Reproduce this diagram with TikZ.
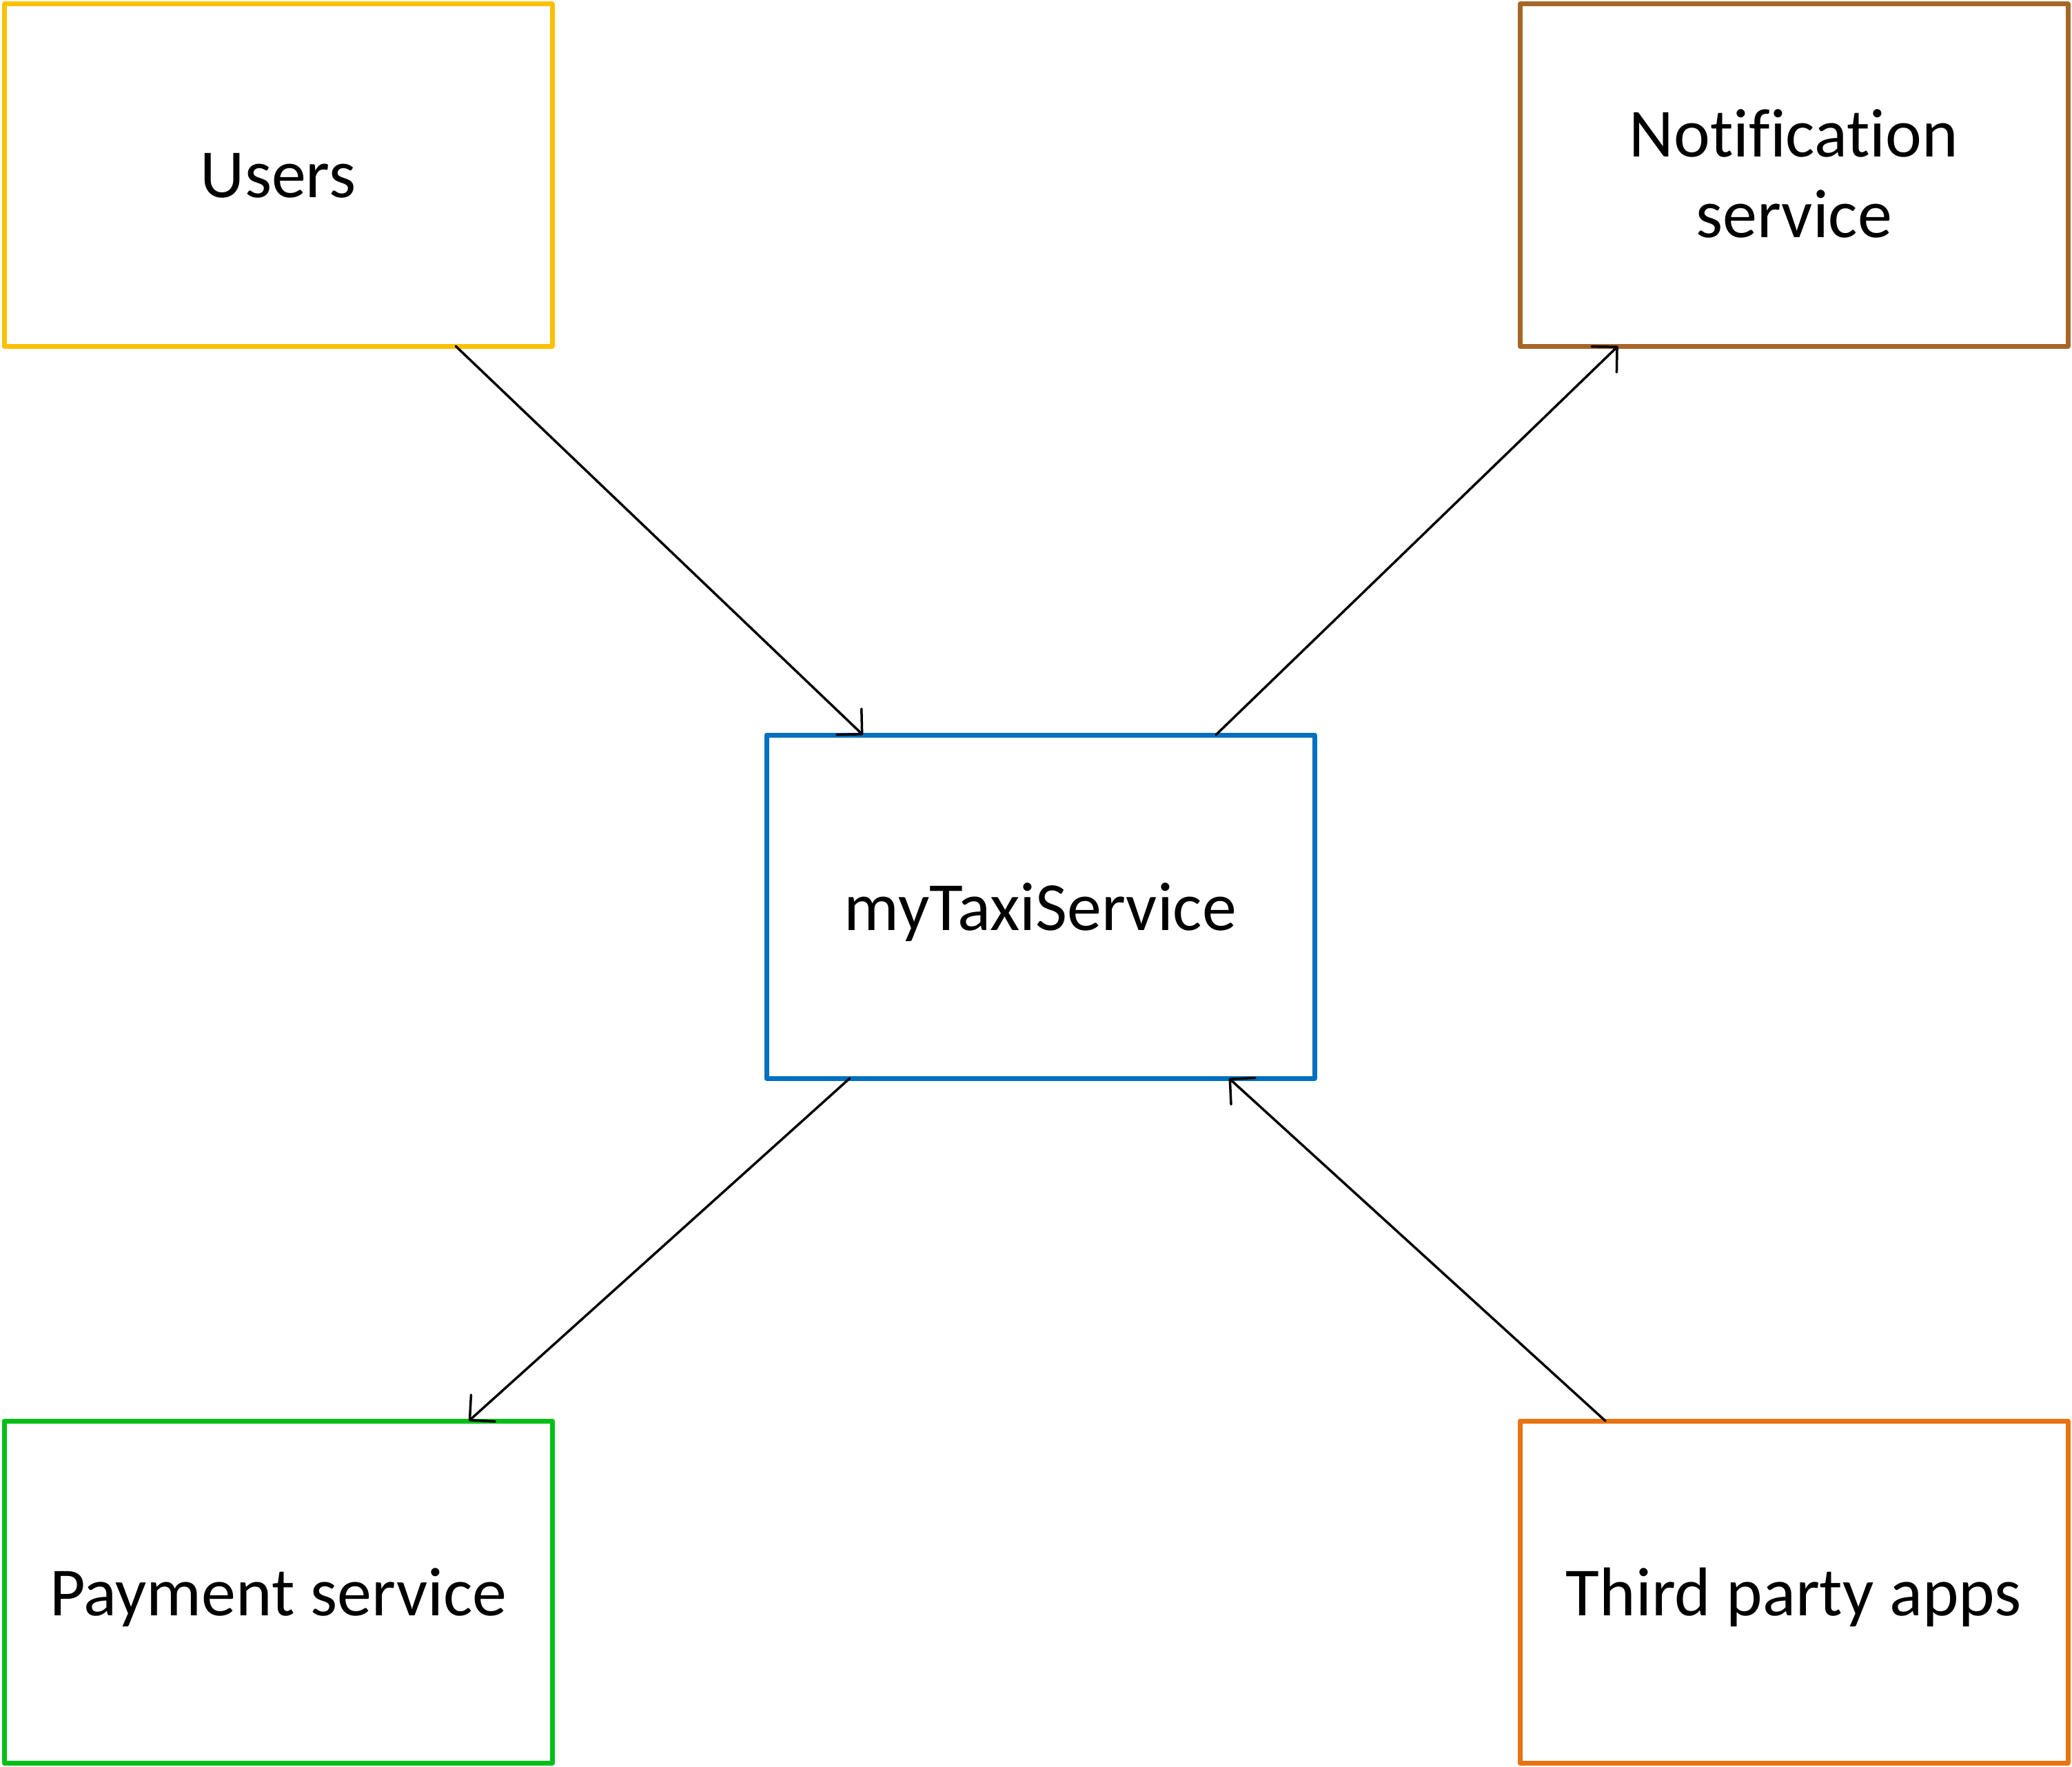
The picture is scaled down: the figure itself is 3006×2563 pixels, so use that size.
\documentclass[tikz,border=0pt]{standalone}
\usepackage{fontspec}
\setmainfont[Ligatures=NoCommon]{Carlito}
\usetikzlibrary{arrows.meta,calc}
\definecolor{cusers}{HTML}{FFC000}
\definecolor{cnotif}{HTML}{A66628}
\definecolor{cmain}{HTML}{0070C0}
\definecolor{cpay}{HTML}{00C018}
\definecolor{cthird}{HTML}{E97311}
\tikzset{
  box/.style={draw, line width=7pt, line join=round, minimum width=795pt, minimum height=496pt,
    inner sep=0pt, outer sep=0pt, align=center, font=\fontsize{100}{117}\selectfont},
  oneline/.style={text depth=0pt},
  conn/.style={line width=3.5pt, line cap=round, line join=round,
    -{Straight Barb[length=26pt,width=52pt,line cap=round,line join=round]}}
}
\begin{document}
\begin{tikzpicture}[x=1pt,y=-1pt]
\useasboundingbox (0,0) rectangle (3006,2563);
\node[box, oneline, draw=cusers] (users) at (403.5,254) {Users};
\node[box, draw=cnotif] (notif) at (2602.5,254) {};
\node[align=center, font=\fontsize{100}{117}\selectfont, inner sep=0pt] (notiftext) at ($(notif.center)+(0,-2)$) {Notification\\service};
\node[box, oneline, draw=cmain, minimum height=498pt] (main) at (1509.5,1315) {myTaxiService};
\node[box, oneline, draw=cpay] (pay) at (403.5,2309) {Payment service};
\node[box, oneline, draw=cthird] (third) at (2602.5,2309) {Third party apps};
\draw[conn] ($(users.south west)!0.824!(users.south east)$) -- ($(main.north west)!0.176!(main.north east)$);
\draw[conn] ($(main.north west)!0.82!(main.north east)$) -- ($(notif.south west)!0.179!(notif.south east)$);
\draw[conn] ($(main.south west)!0.152!(main.south east)$) -- ($(pay.north west)!0.848!(pay.north east)$);
\draw[conn] ($(third.north west)!0.156!(third.north east)$) -- ($(main.south west)!0.844!(main.south east)$);
\end{tikzpicture}
\end{document}
